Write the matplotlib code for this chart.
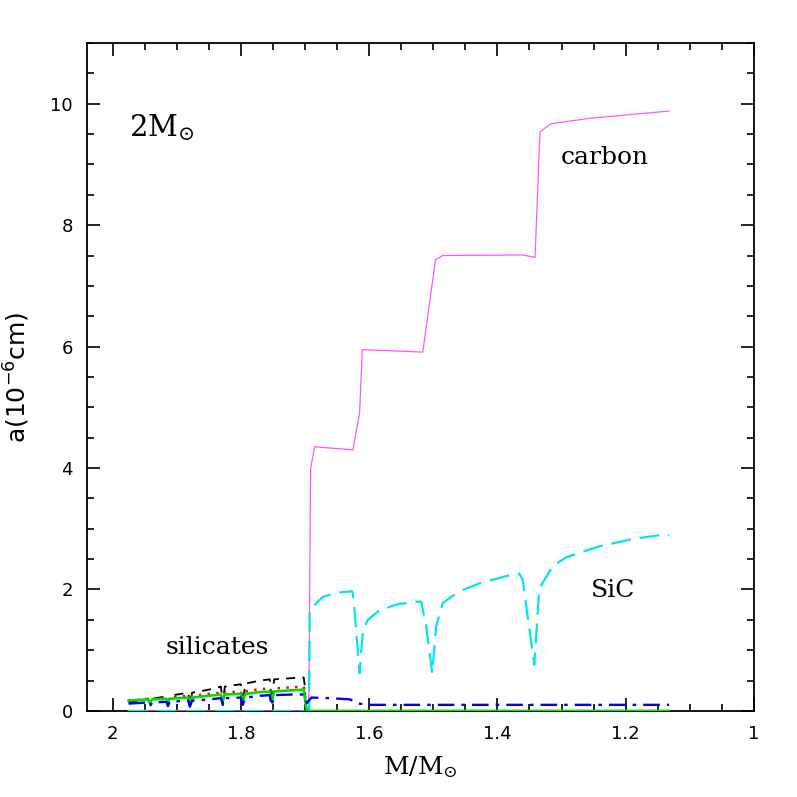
import matplotlib
matplotlib.use("Agg")
import matplotlib.pyplot as plt
from matplotlib.ticker import MultipleLocator

plt.rcParams['font.family'] = ['DejaVu Serif']
plt.rcParams['mathtext.fontset'] = 'dejavuserif'

# ---- data ----
# carbon grains (magenta)
carbon_x = [1.976, 1.8, 1.6942, 1.6911, 1.6848, 1.6252, 1.6148, 1.6106, 1.5163,
            1.4965, 1.4851, 1.3606, 1.3413, 1.3335, 1.3164, 1.2568, 1.1323]
carbon_y = [0.0, 0.0, 0.0, 4.0, 4.35, 4.30, 4.91, 5.95, 5.91,
            7.43, 7.50, 7.51, 7.47, 9.54, 9.67, 9.76, 9.88]

# SiC grains (cyan, long dash)
sic_x = [1.976, 1.80, 1.700, 1.6935, 1.6926, 1.6875, 1.6719, 1.6486, 1.6262, 1.6241,
         1.6148, 1.6097, 1.6019, 1.5837, 1.5577, 1.5292, 1.5188, 1.5110, 1.5016,
         1.4954, 1.4851, 1.4592, 1.4280, 1.3865, 1.3658, 1.3606, 1.3424, 1.3346,
         1.3139, 1.2931, 1.2413, 1.1894, 1.1375, 1.1323]
sic_y = [0.0, 0.0, 0.0, 0.0, 1.66, 1.72, 1.88, 1.95, 1.97, 1.83,
         0.62, 1.33, 1.50, 1.66, 1.75, 1.80, 1.80, 1.39, 0.62,
         1.39, 1.78, 1.97, 2.10, 2.22, 2.26, 2.16, 0.76, 2.02,
         2.38, 2.53, 2.71, 2.83, 2.91, 2.89]

# silicate grains (four species)
sil_x = [1.975, 1.96, 1.945, 1.9417, 1.938, 1.916, 1.9136, 1.911, 1.882, 1.8794,
         1.876, 1.85, 1.831, 1.828, 1.825, 1.80, 1.7969, 1.793, 1.77, 1.755,
         1.7518, 1.748, 1.72, 1.702]
sil_black = [0.14, 0.17, 0.20, 0.12, 0.20, 0.24, 0.12, 0.25, 0.30, 0.10,
             0.30, 0.35, 0.40, 0.10, 0.40, 0.44, 0.12, 0.45, 0.50, 0.52,
             0.14, 0.52, 0.54, 0.55]
sil_red = [0.17, 0.18, 0.20, 0.16, 0.20, 0.22, 0.16, 0.22, 0.25, 0.14,
           0.25, 0.28, 0.30, 0.19, 0.30, 0.32, 0.18, 0.32, 0.36, 0.37,
           0.17, 0.37, 0.39, 0.40]
sil_green = [0.17, 0.18, 0.19, 0.14, 0.19, 0.20, 0.14, 0.20, 0.22, 0.12,
             0.22, 0.25, 0.27, 0.17, 0.27, 0.28, 0.16, 0.28, 0.31, 0.32,
             0.15, 0.32, 0.34, 0.35]
sil_blue = [0.12, 0.13, 0.14, 0.08, 0.14, 0.15, 0.08, 0.15, 0.17, 0.07,
            0.17, 0.19, 0.21, 0.10, 0.21, 0.22, 0.10, 0.22, 0.25, 0.26,
            0.08, 0.26, 0.27, 0.27]

# tails after silicate formation stops
black_tail_x = [1.700, 1.699]
black_tail_y = [0.40, 0.0]
red_tail_x = [1.700, 1.699]
red_tail_y = [0.30, 0.0]
green_tail_x = [1.700, 1.697, 1.60, 1.40, 1.1323]
green_tail_y = [0.20, 0.0, 0.0, 0.0, 0.0]
blue_tail_x = [1.697, 1.690, 1.66, 1.63, 1.615, 1.60, 1.50, 1.40, 1.30, 1.20, 1.1323]
blue_tail_y = [0.13, 0.22, 0.21, 0.19, 0.12, 0.10, 0.10, 0.10, 0.10, 0.10, 0.10]

x_ticks = [2, 1.8, 1.6, 1.4, 1.2, 1]
x_ticklabels = ['2', '1.8', '1.6', '1.4', '1.2', '1']
y_ticks = [0, 2, 4, 6, 8, 10]

# ---- figure ----
fig = plt.figure(figsize=(7.97, 7.97), dpi=100)
ax = fig.add_axes([0.109, 0.108, 0.837, 0.838])

ax.plot(carbon_x, carbon_y, color='#ff55ff', lw=0.9, zorder=3)
ax.plot(sic_x, sic_y, color='#00e5ee', lw=1.6, dashes=(9, 4), zorder=4)

ax.plot(sil_x + black_tail_x, sil_black + black_tail_y, color='black', lw=1.3,
        dashes=(5, 4), zorder=5)
ax.plot(sil_x + red_tail_x, sil_red + red_tail_y, color='red', lw=1.8,
        dashes=(1, 2.5), zorder=5)
ax.plot(sil_x + green_tail_x, sil_green + green_tail_y, color='#00dd00', lw=1.9,
        zorder=5)
ax.plot(sil_x + blue_tail_x, sil_blue + blue_tail_y, color='#0000ee', lw=1.7,
        dashes=(7, 3, 1.5, 3), zorder=6)

ax.set_xlim(2.04, 1.0)
ax.set_ylim(0, 11)
ax.set_xticks(x_ticks)
ax.set_xticklabels(x_ticklabels)
ax.set_yticks(y_ticks)
ax.xaxis.set_minor_locator(MultipleLocator(0.05))
ax.yaxis.set_minor_locator(MultipleLocator(0.5))
ax.tick_params(which='both', direction='in', top=True, right=True,
               labelsize=13, width=1.2)
ax.tick_params(which='major', length=9.5, pad=10)
ax.tick_params(which='minor', length=5)
for lab in ax.get_xticklabels() + ax.get_yticklabels():
    lab.set_family('DejaVu Sans')
for s in ax.spines.values():
    s.set_linewidth(1.3)

ax.set_xlabel(r'M/M$_{\odot}$', fontsize=18, labelpad=8)
ax.set_ylabel(r'a(10$^{-6}$cm)', fontsize=18, family='DejaVu Sans',
              math_fontfamily='dejavusans')
ax.yaxis.set_label_coords(-0.083, 0.5)

ax.text(1.975, 9.6, r'2M$_{\odot}$', fontsize=21, ha='left', va='center')
ax.text(1.232, 9.11, 'carbon', fontsize=18, ha='center', va='center')
ax.text(1.2195, 1.99, 'SiC', fontsize=18, ha='center', va='center')
ax.text(1.837, 1.04, 'silicates', fontsize=18, ha='center', va='center')

fig.savefig('out.png', dpi=100)
